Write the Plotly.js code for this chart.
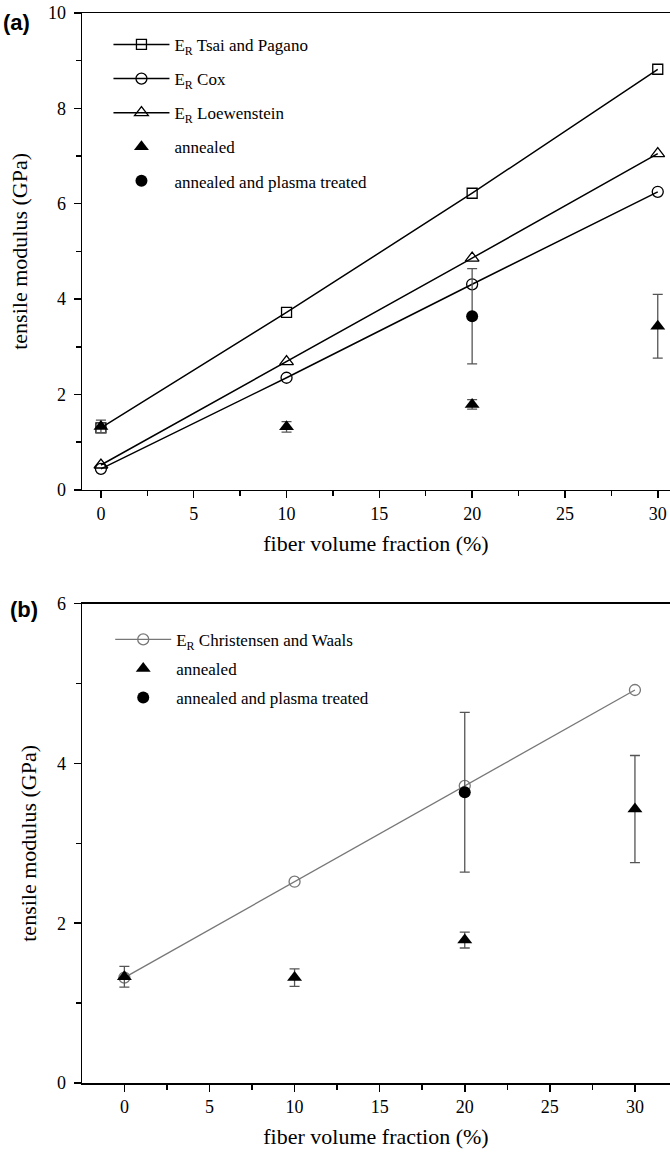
<!DOCTYPE html>
<html>
<head>
<meta charset="utf-8">
<script src="https://cdn.plot.ly/plotly-3.0.1.min.js"></script>
<style>html,body{margin:0;padding:0;background:#fff;}#chart{width:670px;height:1153px;}</style>
</head>
<body>
<div id="chart"></div>
<script>
// ---- data ----
const fraction = [0, 10, 20, 30];
const tsaiPagano = [1.30, 3.72, 6.22, 8.82];
const cox = [0.44, 2.35, 4.31, 6.25];
const loewenstein = [0.52, 2.69, 4.86, 7.05];
const annealed = [1.33, 1.32, 1.79, 3.43];
const annealedErr = [0.13, 0.11, 0.10, 0.67];
const plasmaFraction = [20];
const plasma = [3.64];
const plasmaErr = [1.0];
const christensen = [1.32, 2.52, 3.72, 4.92];

const serif = 'Liberation Serif, Times New Roman, serif';
const errStyle = {type: 'data', visible: true, color: '#555', thickness: 1.3, width: 5};

const traces = [
  {x: fraction, y: tsaiPagano, name: 'E<sub>R</sub> Tsai and Pagano', mode: 'lines+markers',
   line: {color: '#000', width: 1.5}, marker: {symbol: 'square-open', size: 10, color: '#000', line: {width: 1.3}},
   xaxis: 'x', yaxis: 'y', legend: 'legend', legendgroup: 'a1'},
  {x: fraction, y: cox, name: 'E<sub>R</sub> Cox', mode: 'lines+markers',
   line: {color: '#000', width: 1.5}, marker: {symbol: 'circle-open', size: 11, color: '#000', line: {width: 1.3}},
   xaxis: 'x', yaxis: 'y', legend: 'legend', legendgroup: 'a2'},
  {x: fraction, y: loewenstein, name: 'E<sub>R</sub> Loewenstein', mode: 'lines+markers',
   line: {color: '#000', width: 1.5}, marker: {symbol: 'triangle-up-open', size: 12, color: '#000', line: {width: 1.3}},
   xaxis: 'x', yaxis: 'y', legend: 'legend', legendgroup: 'a3'},
  {x: fraction, y: annealed, name: 'annealed', mode: 'markers',
   error_y: Object.assign({array: annealedErr}, errStyle),
   marker: {symbol: 'triangle-up', size: 13, color: '#000'},
   xaxis: 'x', yaxis: 'y', legend: 'legend', legendgroup: 'a4'},
  {x: plasmaFraction, y: plasma, name: 'annealed and plasma treated', mode: 'markers',
   error_y: Object.assign({array: plasmaErr}, errStyle),
   marker: {symbol: 'circle', size: 12, color: '#000'},
   xaxis: 'x', yaxis: 'y', legend: 'legend', legendgroup: 'a5'},

  {x: fraction, y: christensen, name: 'E<sub>R</sub> Christensen and Waals', mode: 'lines+markers',
   line: {color: '#777', width: 1.3}, marker: {symbol: 'circle-open', size: 11, color: '#777', line: {width: 1.3}},
   xaxis: 'x2', yaxis: 'y2', legend: 'legend2', legendgroup: 'b1'},
  {x: fraction, y: annealed, name: 'annealed', mode: 'markers',
   error_y: Object.assign({array: annealedErr}, errStyle),
   marker: {symbol: 'triangle-up', size: 13, color: '#000'},
   xaxis: 'x2', yaxis: 'y2', legend: 'legend2', legendgroup: 'b2'},
  {x: plasmaFraction, y: plasma, name: 'annealed and plasma treated', mode: 'markers',
   error_y: Object.assign({array: plasmaErr}, errStyle),
   marker: {symbol: 'circle', size: 12, color: '#000'},
   xaxis: 'x2', yaxis: 'y2', legend: 'legend2', legendgroup: 'b3'}
];

function xAxis(range, anchor) {
  return {
    anchor: anchor, domain: [0, 1], range: range,
    showline: true, linecolor: '#000', linewidth: 1.5, mirror: true,
    showgrid: false, zeroline: false,
    ticks: 'outside', ticklen: 7, tickwidth: 1.5, tickcolor: '#000',
    tick0: 0, dtick: 5,
    minor: {tick0: 0, dtick: 2.5, ticks: 'outside', ticklen: 5, tickwidth: 1.5, tickcolor: '#000', showgrid: false},
    tickfont: {family: serif, size: 18, color: '#000'},
    title: {text: 'fiber volume fraction (%)', font: {family: serif, size: 22, color: '#000'}, standoff: 12},
    automargin: false
  };
}
function yAxis(range, domain, anchor) {
  return {
    anchor: anchor, domain: domain, range: range,
    showline: true, linecolor: '#000', linewidth: 1.5,
    showgrid: false, zeroline: false,
    ticks: 'outside', ticklen: 7, tickwidth: 1.5, tickcolor: '#000',
    tick0: 0, dtick: 2,
    minor: {tick0: 0, dtick: 1, ticks: 'outside', ticklen: 5, tickwidth: 1.5, tickcolor: '#000', showgrid: false},
    tickfont: {family: serif, size: 18, color: '#000'},
    ticklabelstandoff: 4,
    title: {text: 'tensile modulus (GPa)', font: {family: serif, size: 22, color: '#000'}, standoff: 14},
    automargin: false
  };
}

const legendBase = {
  xanchor: 'left', yanchor: 'top', bgcolor: 'rgba(0,0,0,0)', borderwidth: 0,
  font: {family: serif, size: 17, color: '#000'}, itemwidth: 56, traceorder: 'grouped'
};

const layout = {
  width: 670, height: 1153,
  margin: {l: 82, r: 0, t: 13, b: 69.5},
  paper_bgcolor: '#fff', plot_bgcolor: '#fff',
  showlegend: true,
  xaxis: xAxis([-1.02, 30.66], 'y'),
  yaxis: yAxis([0, 10], [0.5544, 1], 'x'),
  xaxis2: xAxis([-2.49, 32.06], 'y2'),
  yaxis2: yAxis([0, 6], [0, 0.4479], 'x2'),
  legend: Object.assign({x: 0.045, y: 0.987, tracegroupgap: 9}, legendBase),
  legend2: Object.assign({x: 0.048, y: 0.431, tracegroupgap: 4}, legendBase),
  annotations: [
    {text: '<b>(a)</b>', xref: 'paper', yref: 'paper', x: -0.137, y: 1.0, xanchor: 'left', yanchor: 'middle',
     yshift: -9, showarrow: false, font: {family: 'Liberation Sans, Arial, sans-serif', size: 22, color: '#000'}},
    {text: '<b>(b)</b>', xref: 'paper', yref: 'paper', x: -0.126, y: 0.4479, xanchor: 'left', yanchor: 'middle',
     yshift: -6, showarrow: false, font: {family: 'Liberation Sans, Arial, sans-serif', size: 22, color: '#000'}}
  ]
};

Plotly.newPlot('chart', traces, layout, {displayModeBar: false, staticPlot: true});
</script>
</body>
</html>
